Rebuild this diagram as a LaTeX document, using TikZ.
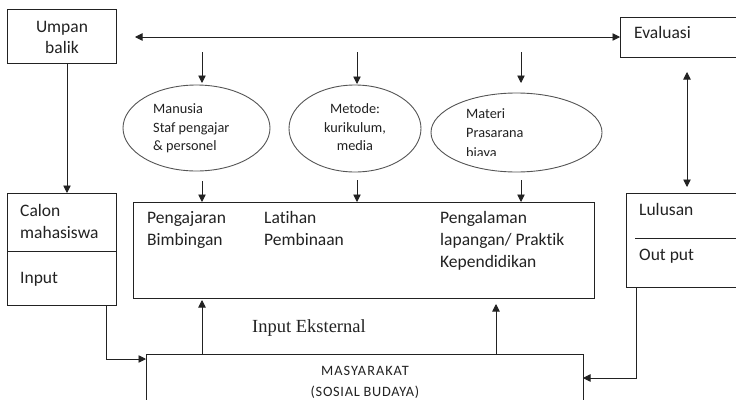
\documentclass[tikz,border=0pt]{standalone}
\usepackage{fontspec}
\setmainfont[Ligatures=NoCommon]{Carlito}
\newfontfamily\serifft{Liberation Serif}
\usetikzlibrary{arrows.meta,shapes.geometric}
\definecolor{ln}{HTML}{222222}
\definecolor{ell}{HTML}{555555}
\definecolor{tx}{HTML}{222222}
\tikzset{
  box/.style={draw=ln, line width=0.9pt, rectangle, inner sep=0pt, outer sep=0pt},
  oval/.style={draw=ell, line width=0.9pt, ellipse, inner sep=0pt, outer sep=0pt},
  big/.style={font=\fontsize{17.5}{21}\selectfont, text=tx, inner sep=0pt},
  small/.style={font=\fontsize{14.3}{17}\selectfont, text=tx, inner sep=0pt},
  arr/.style={draw=ln, line width=0.9pt, -{Triangle[length=7.5pt,width=7.5pt]}},
  darr/.style={draw=ln, line width=0.9pt, {Triangle[length=7.5pt,width=7.5pt]}-{Triangle[length=7.5pt,width=7.5pt]}},
}
\begin{document}
\begin{tikzpicture}[x=1pt,y=-1pt]
\useasboundingbox (0,0) rectangle (736,399);
\clip (0,0) rectangle (736,399);
\fill[white] (0,0) rectangle (736,399);
% boxes
\node[box, minimum width=109pt, minimum height=54pt] (ub) at (61.5,36) {};
\node[box, minimum width=130pt, minimum height=40pt] (ev) at (685,37) {};
\node[box, minimum width=109pt, minimum height=112pt] (cm) at (61.5,249) {};
\node[box, minimum width=461pt, minimum height=96pt] (pb) at (363.5,250) {};
\node[box, minimum width=124pt, minimum height=94pt] (lu) at (688,240) {};
\node[box, minimum width=437pt, minimum height=70pt] (ms) at (364.5,389) {};
\draw[draw=ln, line width=0.9pt] (cm.west |- 0,251) -- (cm.east |- 0,251);
\coordinate (lud1) at (635,238);
\coordinate (lud2) at (736,238);
\draw[draw=ln, line width=0.9pt] (lud1) -- (lud2);
% ellipses
\node[oval, minimum width=147pt, minimum height=86pt] (e1) at (196.5,128) {};
\node[oval, minimum width=132pt, minimum height=87pt] (e2) at (355,128.5) {};
\node[oval, minimum width=171pt, minimum height=79pt] (e3) at (516.5,132.5) {};
% texts
\node[big, anchor=base] (t1) at (62,32) {Umpan};
\node[big, anchor=base] (t2) at (62,53) {balik};
\node[big, anchor=base west] (t3) at (634,38) {Evaluasi};
\node[big, anchor=base west] (t4) at (20,216) {Calon};
\node[big, anchor=base west] (t5) at (20,238) {mahasiswa};
\node[big, anchor=base west] (t6) at (20,283) {Input};
\node[big, anchor=base west] (t7) at (639,215) {Lulusan};
\node[big, anchor=base west] (t8) at (639,260) {Out put};
\node[big, anchor=base west] (t9) at (147,223) {Pengajaran};
\node[big, anchor=base west] (t10) at (147,245) {Bimbingan};
\node[big, anchor=base west] (t11) at (264,223) {Latihan};
\node[big, anchor=base west] (t12) at (264,245) {Pembinaan};
\node[big, anchor=base west] (t13) at (440,223) {Pengalaman};
\node[big, anchor=base west] (t14) at (440,245) {lapangan/ Praktik};
\node[big, anchor=base west] (t15) at (440,267) {Kependidikan};
\node[small, anchor=base west] (t16) at (153,113) {Manusia};
\node[small, anchor=base west] (t17) at (153,132) {Staf pengajar};
\node[small, anchor=base west] (t18) at (153,150) {\& personel};
\node[small, anchor=base] (t19) at (355,113) {Metode:};
\node[small, anchor=base] (t20) at (355,132) {kurikulum,};
\node[small, anchor=base] (t21) at (355,150) {media};
\node[small, anchor=base west] (t22) at (466,118) {Materi};
\node[small, anchor=base west] (t23) at (466,137) {Prasarana};
\begin{scope}
\clip (440,140) rectangle (600,155.5);
\node[small, anchor=base west] (t24) at (466,157) {biaya};
\end{scope}
\node[font=\serifft\fontsize{18.5}{22}\selectfont, text=tx, inner sep=0pt, anchor=base west] (t25) at (252,332) {Input Eksternal};
\node[small, anchor=base] (t26) at (365,375) {\addfontfeature{LetterSpace=7}MASYARAKAT};
\node[small, anchor=base] (t27) at (365,396) {\addfontfeature{LetterSpace=5}(SOSIAL BUDAYA)};
% connectors
\coordinate (hl) at (135,37);
\draw[darr] (hl) -- (ev.west);
\coordinate (d1) at (202,52);
\coordinate (d2) at (357,52);
\coordinate (d3) at (521,52);
\draw[arr, shorten >=2pt] (d1) -- (d1 |- e1.north);
\draw[arr, shorten >=1pt] (d2) -- (d2 |- e2.north);
\draw[arr, shorten >=10pt] (d3) -- (d3 |- e3.north);
\draw[arr, shorten <=10pt] (d1 |- e1.south) -- (d1 |- pb.north);
\draw[arr, shorten <=8pt] (d2 |- e2.south) -- (d2 |- pb.north);
\draw[arr, shorten <=8pt] (d3 |- e3.south) -- (d3 |- pb.north);
\draw[arr] (ub.south -| 67,0) -- (cm.north -| 67,0);
\draw[darr, shorten <=15pt, shorten >=6pt] (ev.south -| 687,0) -- (lu.north -| 687,0);
\draw[arr, shorten >=2pt] (ms.north -| 202,0) -- (pb.south -| 202,0);
\draw[arr, shorten >=6pt] (ms.north -| 496,0) -- (pb.south -| 496,0);
\draw[arr] (cm.south -| 106,0) -- (106,359) -- (ms.west |- 0,359);
\draw[arr] (lu.south -| 636,0) -- (636,378) -- (ms.east |- 0,378);
\end{tikzpicture}
\end{document}
